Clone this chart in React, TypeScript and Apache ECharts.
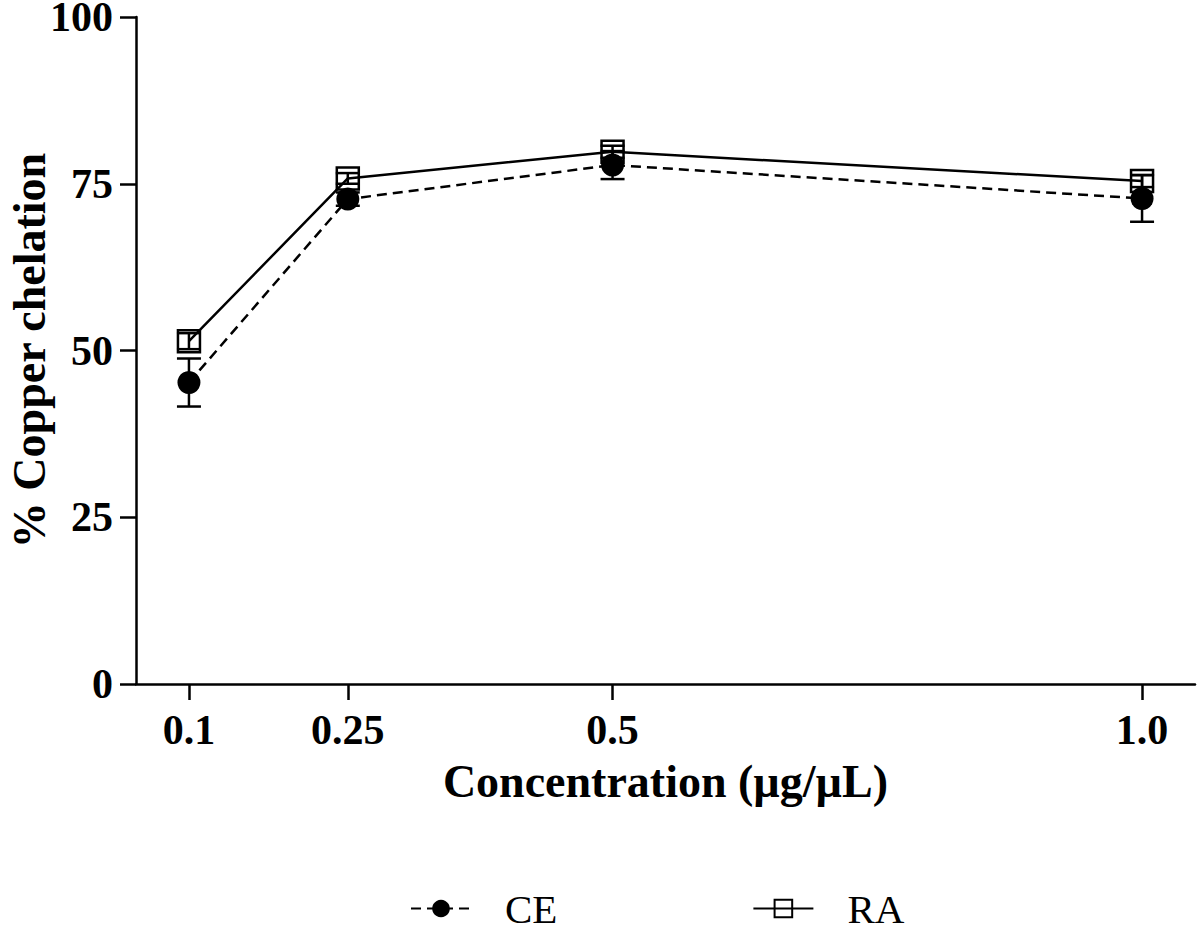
import React, { useEffect, useRef } from "react";
import * as echarts from "echarts";

const concentrations = [0.1, 0.25, 0.5, 1.0];
const xTickLabels = ["0.1", "0.25", "0.5", "1.0"];
const ceMean = [45.2, 72.7, 77.8, 72.8];
const ceErr = [3.6, 1.0, 2.1, 3.5];
const raMean = [51.4, 75.8, 79.8, 75.4];
const raErr = [1.2, 0.8, 0.9, 0.9];
const yTicks = [0, 25, 50, 75, 100];

const FONT = '"Liberation Serif", "Times New Roman", serif';

function errData(mean: number[], err: number[]) {
  return concentrations.map((x, i) => [x, mean[i] - err[i], mean[i] + err[i]]);
}

function errRender(params: any, api: any) {
  const x = api.value(0);
  const lo = api.coord([x, api.value(1)]);
  const hi = api.coord([x, api.value(2)]);
  const w = 12;
  const style = { stroke: "#000", lineWidth: 2.5 };
  return {
    type: "group",
    children: [
      { type: "line", shape: { x1: lo[0], y1: lo[1], x2: hi[0], y2: hi[1] }, style },
      { type: "line", shape: { x1: lo[0] - w, y1: lo[1], x2: lo[0] + w, y2: lo[1] }, style },
      { type: "line", shape: { x1: hi[0] - w, y1: hi[1], x2: hi[0] + w, y2: hi[1] }, style },
    ],
  };
}

export default function App() {
  const ref = useRef<HTMLDivElement>(null);
  useEffect(() => {
    if (!ref.current) return;
    const chart = echarts.init(ref.current, null, { renderer: "svg" });
    const xLabelMap: Record<string, string> = {};
    concentrations.forEach((c, i) => (xLabelMap[String(c)] = xTickLabels[i]));
    chart.setOption({
      animation: false,
      backgroundColor: "#fff",
      grid: { left: 136, top: 17, right: 5, bottom: 246, containLabel: false, outerBoundsMode: "none" },
      xAxis: {
        type: "value",
        min: 0.05,
        max: 1.05,
        name: "Concentration (µg/µL)",
        nameLocation: "middle",
        nameMoveOverlap: false,
        nameGap: 74,
        nameTextStyle: { fontFamily: FONT, fontWeight: "bold", fontSize: 46, color: "#000" },
        axisLine: { show: true, onZero: false, lineStyle: { color: "#000", width: 2.5 } },
        axisTick: { show: true, length: 16, inside: false, customValues: concentrations, lineStyle: { color: "#000", width: 2.5 } },
        axisLabel: {
          customValues: concentrations,
          margin: 31,
          fontFamily: FONT,
          fontWeight: "bold",
          fontSize: 42,
          lineHeight: 30,
          color: "#000",
          formatter: (v: number) => xLabelMap[String(v)] ?? String(v),
        },
        splitLine: { show: false },
      },
      yAxis: {
        type: "value",
        min: 0,
        max: 100,
        interval: 25,
        name: "% Copper chelation",
        nameLocation: "middle",
        nameMoveOverlap: false,
        nameGap: 84,
        nameTextStyle: { fontFamily: FONT, fontWeight: "bold", fontSize: 46, color: "#000" },
        axisLine: { show: true, lineStyle: { color: "#000", width: 2.5 } },
        axisTick: { show: true, length: 16, inside: false, customValues: yTicks, lineStyle: { color: "#000", width: 2.5 } },
        axisLabel: {
          margin: 23,
          fontFamily: FONT,
          fontWeight: "bold",
          fontSize: 42,
          lineHeight: 30,
          color: "#000",
        },
        splitLine: { show: false },
      },
      legend: {
        data: ["CE", "RA"],
        left: 405,
        top: 883,
        itemWidth: 60,
        itemHeight: 22,
        itemGap: 195,
        textStyle: { fontFamily: FONT, fontSize: 41, lineHeight: 34, color: "#000", padding: [0, 0, 0, 29] },
      },
      series: [
        {
          name: "RA err",
          type: "custom",
          renderItem: errRender,
          data: errData(raMean, raErr),
          z: 1,
          silent: true,
        },
        {
          name: "RA",
          type: "line",
          data: concentrations.map((x, i) => [x, raMean[i]]),
          symbol: "rect",
          symbolSize: 22,
          lineStyle: { color: "#000", width: 2.5, type: "solid" },
          itemStyle: { color: "rgba(255,255,255,0)", borderColor: "#000", borderWidth: 2.5 },
          z: 2,
        },
        {
          name: "CE err",
          type: "custom",
          renderItem: errRender,
          data: errData(ceMean, ceErr),
          z: 3,
          silent: true,
        },
        {
          name: "CE",
          type: "line",
          data: concentrations.map((x, i) => [x, ceMean[i]]),
          symbol: "circle",
          symbolSize: 23,
          lineStyle: { color: "#000", width: 2.5, type: [10, 6] },
          itemStyle: { color: "#000", borderColor: "#000", borderWidth: 0 },
          z: 4,
        },
      ],
    });
    return () => chart.dispose();
  }, []);
  return (
    <div
      ref={ref}
      style={{ position: "absolute", left: 0, top: 0, width: 1200, height: 930 }}
    />
  );
}
